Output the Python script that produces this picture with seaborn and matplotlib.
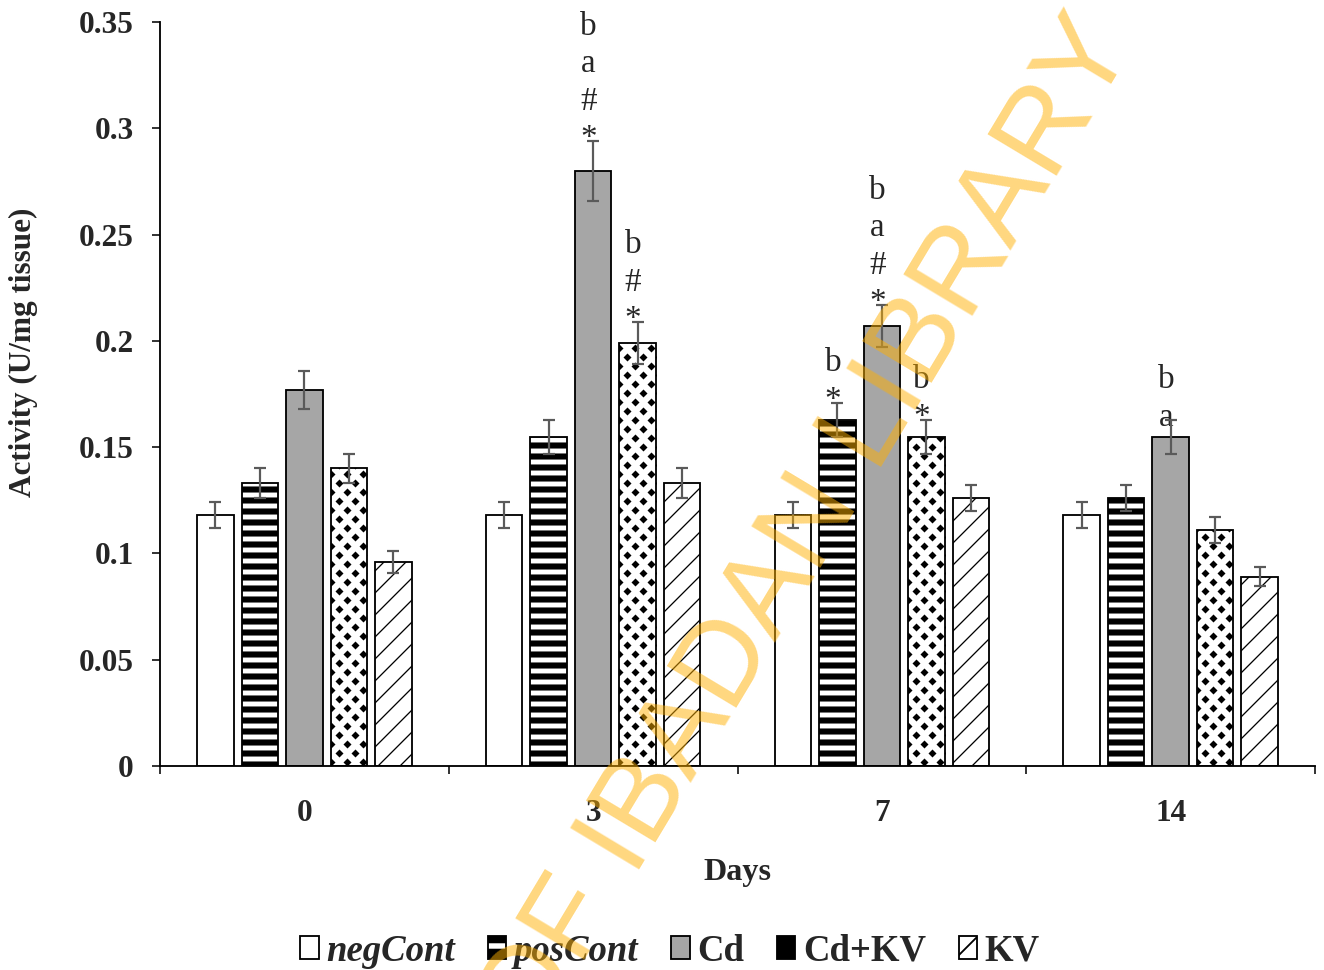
import numpy as np
import pandas as pd
import seaborn as sns
import matplotlib.pyplot as plt
from matplotlib.patches import Patch
from matplotlib.ticker import FixedLocator

# data
days = ['0', '3', '7', '14']
groups = ['negCont', 'posCont', 'Cd', 'Cd+KV', 'KV']
neg_cont = [0.118, 0.118, 0.118, 0.118]
pos_cont = [0.133, 0.155, 0.163, 0.126]
cd = [0.177, 0.280, 0.207, 0.155]
cd_kv = [0.140, 0.199, 0.155, 0.111]
kv = [0.096, 0.133, 0.126, 0.089]

neg_err = [0.006, 0.006, 0.006, 0.006]
pos_err = [0.007, 0.008, 0.008, 0.006]
cd_err = [0.009, 0.014, 0.010, 0.008]
cd_kv_err = [0.007, 0.010, 0.008, 0.006]
kv_err = [0.005, 0.007, 0.006, 0.0045]

# (day, group, letters)
marks = [('3', 'Cd', 'b\na\n#\n*'), ('3', 'Cd+KV', 'b\n#\n*'),
         ('7', 'posCont', 'b\n*'), ('7', 'Cd', 'b\na\n#\n*'),
         ('7', 'Cd+KV', 'b\n*'), ('14', 'Cd', 'b\na')]

values = [neg_cont, pos_cont, cd, cd_kv, kv]
errors = [neg_err, pos_err, cd_err, cd_kv_err, kv_err]
df = pd.DataFrame({
    'Day': days * len(groups),
    'Group': [g for g in groups for _ in days],
    'Activity': [v for vals in values for v in vals],
})

sns.set_style('ticks')
plt.rcParams['font.family'] = ['Liberation Serif', 'DejaVu Serif']

dpi = 132.4
fig = plt.figure(figsize=(1324 / dpi, 970 / dpi), dpi=dpi)
ax = fig.add_axes([160 / 1324, 1 - 766 / 970, 1155 / 1324, 744 / 970])

colors = ['white', 'white', '#A6A6A6', 'white', 'white']
sns.barplot(data=df, x='Day', y='Activity', hue='Group', order=days,
            hue_order=groups, palette=colors, saturation=1, width=0.77,
            gap=0.18, errorbar=None, legend=False, edgecolor='black',
            linewidth=1.0, ax=ax)

hatches = [None, '--', None, None, '//']
hatch_lw = [1.0, 3.3, 1.0, 1.0, 0.7]
for cont, h, lw in zip(ax.containers, hatches, hatch_lw):
    for p in cont:
        if h:
            p.set_hatch(h)
        if hasattr(p, 'set_hatch_linewidth'):
            p.set_hatch_linewidth(lw)

ax.set_ylim(0, 0.35)
ax.set_xlim(-0.5, 3.5)

# diamond fill for Cd+KV bars, clipped to each bar
inv = ax.transData.inverted()
for p in ax.containers[3]:
    bb = p.get_window_extent()
    pts = []
    for row, y in enumerate(np.arange(bb.y0 + 4, bb.y1 + 9, 9)):
        off = 0 if row % 2 == 0 else 8
        for x in np.arange(bb.x0 + off - 16, bb.x1 + 16, 16):
            pts.append((x, y))
    pts = inv.transform(np.array(pts))
    sc = ax.scatter(pts[:, 0], pts[:, 1], marker=(4, 0, 0), s=19, c='black',
                    linewidths=0, zorder=p.get_zorder() + 0.1)
    sc.set_clip_path(p)

# error bars at bar centres
for cont, errs in zip(ax.containers, errors):
    xs = [p.get_x() + p.get_width() / 2 for p in cont]
    ys = [p.get_height() for p in cont]
    ax.errorbar(xs, ys, yerr=errs, fmt='none', ecolor='#5A5A5A',
                elinewidth=1.2, capsize=3.4, capthick=1.2, zorder=5)

for day, grp, txt in marks:
    gi = groups.index(grp)
    di = days.index(day)
    p = ax.containers[gi][di]
    top = p.get_height() + errors[gi][di]
    ax.annotate(txt, (p.get_x() + p.get_width() / 2, top), xytext=(-2.5, -3.5),
                textcoords='offset points', ha='center', va='baseline',
                fontsize=18, linespacing=1.3)

ax.set_ylim(0, 0.35)
ax.set_xlim(-0.5, 3.5)
ax.set_yticks([0, 0.05, 0.1, 0.15, 0.2, 0.25, 0.3, 0.35])
ax.set_yticklabels(['0', '0.05', '0.1', '0.15', '0.2', '0.25', '0.3', '0.35'])
ax.xaxis.set_major_locator(FixedLocator([-0.5, 0.5, 1.5, 2.5, 3.5]))
ax.xaxis.set_minor_locator(FixedLocator([0, 1, 2, 3]))
ax.set_xticklabels([], minor=False)
ax.set_xticklabels(days, minor=True)
ax.tick_params(axis='x', which='major', length=8 * 72 / dpi, width=1.0, direction='out')
ax.tick_params(axis='x', which='minor', length=0, pad=18, labelsize=17)
ax.tick_params(axis='y', length=8 * 72 / dpi, width=1.0, pad=10, labelsize=17)
for lab in ax.get_xticklabels(minor=True) + ax.get_yticklabels():
    lab.set_fontweight('bold')

for side in ['top', 'right']:
    ax.spines[side].set_visible(False)
for side in ['left', 'bottom']:
    ax.spines[side].set_linewidth(1.0)
    ax.spines[side].set_color('black')

ax.set_xlabel('Days', fontsize=17.5, fontweight='bold', labelpad=16)
ax.set_ylabel('Activity (U/mg tissue)', fontsize=17, fontweight='bold',
              labelpad=22, y=0.556)

# legend swatches
handles = [
    Patch(facecolor='white', edgecolor='black', linewidth=1.0),
    Patch(facecolor='black', edgecolor='black', linewidth=1.0),
    Patch(facecolor='#A6A6A6', edgecolor='black', linewidth=1.0),
    Patch(facecolor='black', edgecolor='black', linewidth=1.0),
    Patch(facecolor='white', edgecolor='black', linewidth=1.0, hatch='//'),
]
leg = fig.legend(handles, groups, loc='center', bbox_to_anchor=(0.506, 0.0195),
                 ncol=5, frameon=False, fontsize=20, handlelength=0.5,
                 handleheight=0.55, handletextpad=0.2, columnspacing=0.9,
                 borderpad=0)
for i, t in enumerate(leg.get_texts()):
    t.set_fontweight('bold')
    if i < 2:
        t.set_fontstyle('italic')
# white band across the posCont swatch and a notch in the Cd+KV swatch
for i, patch in enumerate(leg.get_patches()):
    if i == 1:
        patch.set_hatch('-')
        patch.set_edgecolor('black')
        patch.set_facecolor('white')
        if hasattr(patch, 'set_hatch_linewidth'):
            patch.set_hatch_linewidth(9)

for t in leg.get_texts():
    pass

# library watermark
fig.text(1109 / 1324, 1 - 29 / 970, 'UNIVERSITY OF IBADAN LIBRARY', rotation=59,
         rotation_mode='anchor', ha='right', va='center', fontsize=64,
         family='Liberation Sans', color='#FFB000', alpha=0.5, zorder=10)

fig.savefig('out.png', dpi=dpi)
